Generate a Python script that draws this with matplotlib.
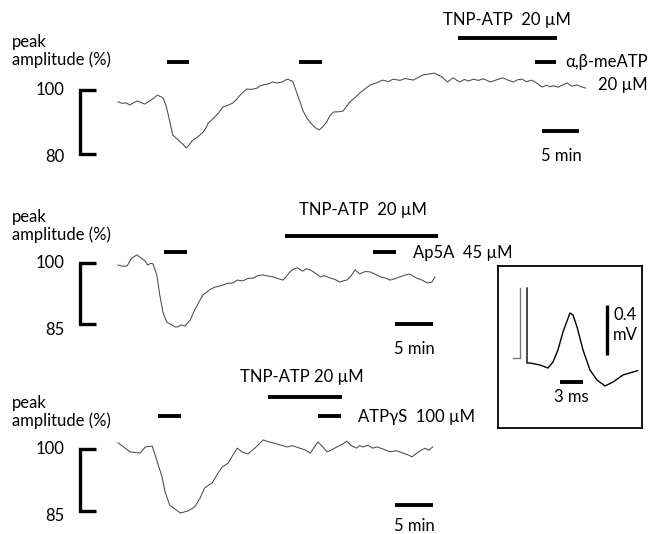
import matplotlib
matplotlib.use("Agg")
import matplotlib.pyplot as plt

plt.rcParams['font.family'] = ['Lato', 'DejaVu Sans']
plt.rcParams['font.size'] = 12

W, H = 650, 534

# --- panel 1: alpha,beta-meATP (time in min, amplitude in %)
t1 = [0.0, 0.6, 1.1, 1.6, 2.1, 2.6, 3.1, 3.6, 4.3, 4.8, 5.3, 5.7, 6.1, 6.5,
      6.8, 7.1, 7.4, 7.9, 8.4, 8.8, 9.2, 9.6, 10.0, 10.7, 11.4, 11.8, 12.2,
      12.6, 13.1, 13.6, 14.2, 14.8, 15.5, 16.0, 16.5, 17.0, 17.4, 18.1, 18.8,
      19.2, 19.6, 20.3, 20.9, 21.5, 22.2, 22.6, 23.0, 23.3, 23.6, 24.1, 24.6,
      25.0, 25.5, 26.0, 26.4, 26.8, 27.2, 27.7, 28.2, 28.6, 29.1, 29.8, 30.4,
      30.8, 31.2, 32.0, 32.7, 33.4, 34.1, 35.0, 35.8, 36.5, 37.2, 38.1, 38.8,
      39.9, 40.5, 41.2, 42.0, 42.8, 43.3, 43.8, 44.5, 45.3, 45.8, 46.2, 46.8,
      47.4, 48.0, 48.7, 49.4, 50.3, 51.2, 52.0, 52.7, 53.4, 54.0, 54.6, 55.2,
      55.9, 56.5, 57.3, 57.9, 58.4, 58.8, 59.5, 60.1, 60.7, 61.3, 62.0, 62.6,
      63.2]
a1 = [96.3, 95.8, 96.0, 95.3, 96.0, 96.6, 96.1, 95.6, 96.6, 97.4, 98.4, 98.0,
      97.5, 95.0, 92.2, 89.0, 85.9, 84.9, 83.8, 83.0, 81.9, 82.8, 84.1, 85.2,
      86.6, 87.8, 89.7, 90.5, 91.6, 92.9, 94.7, 95.2, 95.9, 97.0, 98.4, 99.5,
      100.3, 100.2, 100.6, 101.3, 101.6, 101.9, 102.5, 102.2, 102.5, 103.1,
      103.4, 102.9, 102.8, 99.5, 96.3, 93.5, 91.3, 89.8, 88.8, 88.0, 87.5,
      88.6, 90.0, 91.8, 93.1, 93.2, 93.4, 94.6, 95.9, 97.6, 99.1, 100.4, 101.6,
      102.3, 103.1, 102.6, 103.4, 103.0, 103.6, 103.1, 103.8, 104.7, 105.0,
      105.3, 104.6, 104.1, 102.5, 103.8, 103.0, 102.5, 103.3, 102.8, 103.4,
      103.0, 103.5, 102.5, 103.2, 103.8, 103.1, 102.5, 103.2, 103.4, 102.6,
      103.1, 102.3, 100.9, 101.5, 101.0, 101.3, 100.9, 101.6, 102.2, 101.2,
      101.6, 101.0, 100.6]
agonist1 = [(6.6, 9.6), (24.5, 27.6), (56.4, 59.2)]
tnp1 = (45.9, 59.3)

# --- panel 2: Ap5A
t2 = [0.0, 0.6, 1.2, 1.8, 2.5, 2.9, 3.2, 3.6, 3.9, 4.3, 4.6, 5.1, 5.5, 5.9,
      6.4, 7.1, 7.5, 7.9, 8.3, 8.8, 9.5, 10.1, 10.8, 11.2, 11.7, 12.2, 12.8,
      13.3, 13.8, 14.4, 15.1, 15.7, 16.4, 17.1, 17.8, 18.4, 19.1, 19.7, 20.4,
      21.0, 21.7, 22.2, 22.6, 23.1, 23.6, 24.3, 24.8, 25.3, 25.9, 26.6, 27.2,
      27.9, 28.5, 29.2, 29.6, 30.1, 30.7, 31.2, 31.8, 32.5, 33.2, 33.9, 34.5,
      35.2, 35.8, 36.4, 37.1, 37.7, 38.4, 38.8, 39.3, 40.0, 40.7, 41.3, 41.7]
a2 = [99.5, 99.2, 99.3, 101.2, 102.0, 101.4, 101.0, 100.4, 99.5, 99.9, 99.8,
      97.1, 92.1, 88.0, 85.5, 84.8, 84.3, 84.3, 84.8, 84.5, 86.0, 88.5, 90.9,
      92.2, 92.9, 93.6, 94.1, 94.3, 94.6, 95.0, 95.1, 95.8, 95.6, 96.2, 96.3,
      96.9, 97.1, 96.8, 96.6, 96.2, 95.8, 96.8, 97.8, 98.5, 98.8, 98.0, 98.6,
      98.3, 97.6, 96.6, 96.9, 96.3, 96.0, 95.3, 95.6, 95.8, 96.9, 98.3, 97.3,
      97.9, 97.8, 97.2, 96.6, 96.3, 95.8, 96.1, 96.6, 97.0, 97.3, 96.8, 96.3,
      95.8, 95.1, 95.3, 96.6]
agonist2 = [(6.1, 9.1), (33.6, 36.6)]
tnp2 = (22.0, 42.1)

# --- panel 3: ATPgammaS
t3 = [0.0, 1.6, 2.9, 3.6, 4.5, 5.1, 5.8, 6.2, 6.8, 8.2, 9.2, 10.1, 10.8, 11.4,
      12.4, 13.0, 13.7, 14.5, 15.1, 15.7, 16.3, 17.1, 17.6, 18.0, 18.6, 19.1,
      19.7, 20.4, 21.3, 22.2, 23.0, 23.9, 24.6, 25.3, 25.8, 26.3, 26.9, 27.5,
      28.1, 28.8, 29.5, 30.1, 30.7, 31.4, 31.8, 32.2, 32.9, 33.5, 34.1, 35.0,
      35.8, 36.6, 37.5, 38.1, 38.7, 39.3, 39.8, 40.4, 40.9, 41.4]
a3 = [101.5, 99.3, 99.0, 100.5, 100.7, 97.3, 93.2, 89.6, 86.4, 84.5, 85.0,
      86.0, 88.1, 90.6, 91.8, 93.7, 95.6, 96.6, 98.5, 100.2, 99.3, 98.8, 99.6,
      100.2, 101.3, 102.2, 101.8, 101.5, 101.0, 100.5, 100.8, 100.2, 99.8,
      99.0, 100.4, 101.7, 100.6, 99.3, 99.8, 100.5, 101.1, 101.9, 100.8, 100.2,
      100.8, 100.5, 100.9, 100.2, 100.5, 99.9, 99.3, 99.6, 99.0, 98.6, 98.1,
      99.0, 99.6, 100.2, 99.7, 100.5]
agonist3 = [(5.3, 8.3), (26.3, 29.3)]
tnp3 = (19.7, 29.5)

# --- inset: single response (time in ms, voltage in mV)
pre_t = [1.04, 2.0, 2.0]
pre_v = [0.056, 0.056, 0.616]
ep_t = [2.87, 2.87, 3.26, 4.56, 5.6, 6.26, 6.9, 7.56, 8.47, 8.87, 9.39, 10.17,
        11.08, 11.99, 13.04, 14.08, 15.38, 16.69, 17.3]
ep_v = [0.616, 0.016, 0.016, 0.0, -0.024, 0.024, 0.12, 0.264, 0.416, 0.4,
        0.304, 0.12, -0.04, -0.12, -0.168, -0.136, -0.08, -0.056, -0.045]


def px(x, y):
    return x / W, 1 - y / H


def make_panel(fig, top, bottom, x0, ppm, y100, ppp):
    ax = fig.add_axes([0, 1 - bottom / H, 1, (bottom - top) / H])
    ax.set_xlim(-x0 / ppm, (W - x0) / ppm)
    ax.set_ylim(100 - (bottom - y100) / ppp, 100 + (y100 - top) / ppp)
    ax.axis('off')
    return ax


def draw_panel(ax, t, a, agonist, tnp, y_ag, y_tnp, low, ppm, bar_y, bar_t0):
    ax.plot(t, a, color='#4a4a4a', lw=0.75)
    for t0, t1_ in agonist:
        ax.plot([t0, t1_], [y_ag, y_ag], color='black', lw=2.8,
                solid_capstyle='butt')
    ax.plot(tnp, [y_tnp, y_tnp], color='black', lw=2.8, solid_capstyle='butt')
    # amplitude bracket
    xv, xh = (80 - 118) / ppm, (96 - 118) / ppm
    ax.plot([xh, xv, xv, xh], [100, 100, low, low], color='black', lw=2.4,
            solid_joinstyle='miter', solid_capstyle='butt')
    # 5 min scale bar
    ax.plot([bar_t0, bar_t0 + 5], [bar_y, bar_y], color='black', lw=2.8,
            solid_capstyle='butt')


fig = plt.figure(figsize=(W / 100, H / 100), dpi=100)

ax1 = make_panel(fig, 0, 180, 118, 7.4, 90, 3.2)
draw_panel(ax1, t1, a1, agonist1, tnp1, 108.75, 116.25, 80, 7.4, 87.2, 57.3)
ax2 = make_panel(fig, 180, 365, 118, 7.6, 263, 4.07)
draw_panel(ax2, t2, a2, agonist2, tnp2, 102.7, 106.6, 85, 7.6, 85.0, 36.4)
ax3 = make_panel(fig, 365, 534, 118, 7.6, 449, 4.13)
draw_panel(ax3, t3, a3, agonist3, tnp3, 108.0, 112.6, 85, 7.6, 86.4, 36.4)

# left labels
for yb, y_hi, y_lo, lo in [(47, 90, 157, '80'), (222, 263, 330, '85'),
                           (408, 449, 516, '85')]:
    fig.text(*px(12, yb), 'peak', ha='left', va='baseline')
    fig.text(*px(12, yb + 18), 'amplitude (%)', ha='left', va='baseline')
    fig.text(*px(64, y_hi), '100', ha='right', va='center')
    fig.text(*px(64, y_lo), lo, ha='right', va='center')

# drug labels
fig.text(*px(507, 20), 'TNP-ATP  20 µM', ha='center', va='center')
fig.text(*px(648, 62), 'α,β-meATP', ha='right', va='center')
fig.text(*px(648, 85), '20 µM', ha='right', va='center')
fig.text(*px(561, 156), '5 min', ha='center', va='center')

fig.text(*px(363, 210), 'TNP-ATP  20 µM', ha='center', va='center')
fig.text(*px(413, 253), 'Ap5A  45 µM', ha='left', va='center')
fig.text(*px(414, 349), '5 min', ha='center', va='center')

fig.text(*px(302, 377), 'TNP-ATP 20 µM', ha='center', va='center')
fig.text(*px(358, 417), 'ATPγS  100 µM', ha='left', va='center')
fig.text(*px(414, 526), '5 min', ha='center', va='center')

# inset
bx0, bx1, by0, by1 = 498, 642, 266, 428
axi = fig.add_axes([bx0 / W, 1 - by1 / H, (bx1 - bx0) / W, (by1 - by0) / H])
axi.set_xlim((bx0 - 505) / 7.67, (bx1 - 505) / 7.67)
axi.set_ylim((365 - by1) / 125, (365 - by0) / 125)
axi.set_xticks([])
axi.set_yticks([])
for s in axi.spines.values():
    s.set_linewidth(1.3)
axi.plot(pre_t, pre_v, color='#7a7a7a', lw=1.0)
axi.plot(ep_t, ep_v, color='black', lw=1.0)
axi.plot([13.3, 13.3], [0.08, 0.48], color='black', lw=2.4, solid_capstyle='butt')
axi.plot([7.17, 10.17], [-0.136, -0.136], color='black', lw=2.8,
         solid_capstyle='butt')
axi.text(14.1, 0.40, '0.4', ha='left', va='center')
axi.text(14.1, 0.24, 'mV', ha='left', va='center')
axi.text(8.67, -0.256, '3 ms', ha='center', va='center')

fig.savefig('out.png', dpi=100)
